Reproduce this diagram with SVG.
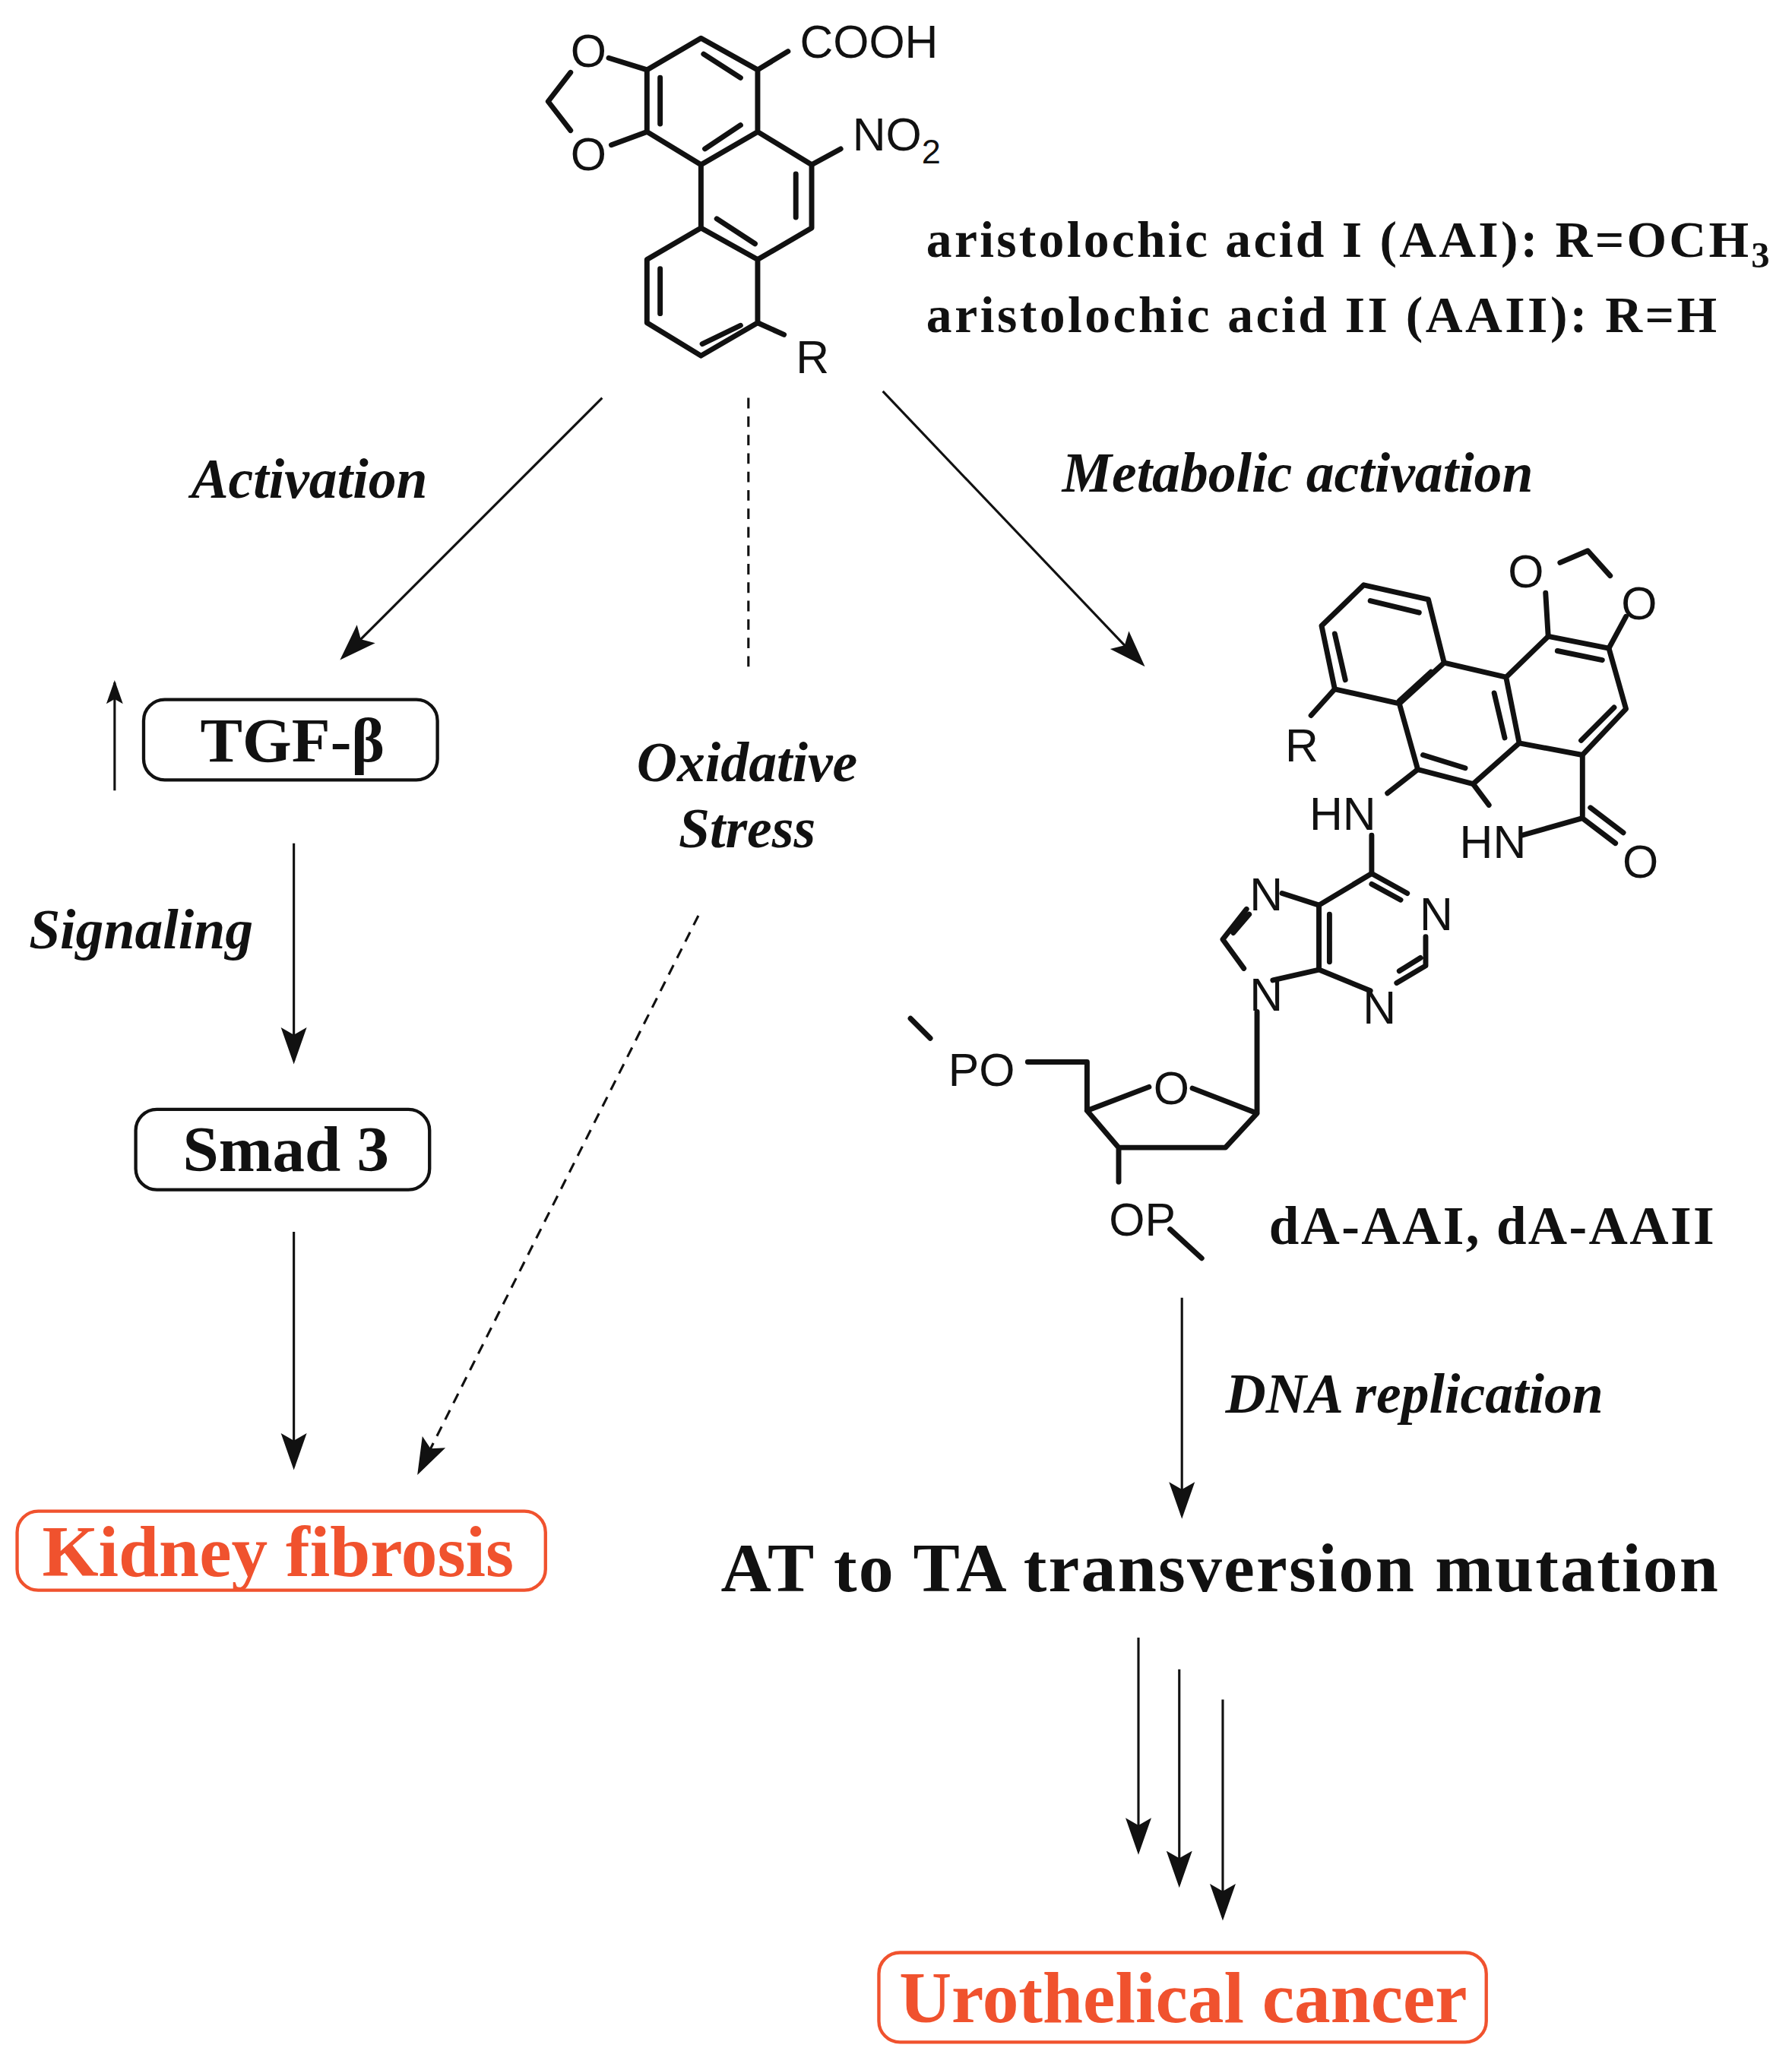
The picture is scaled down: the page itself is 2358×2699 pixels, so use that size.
<svg xmlns="http://www.w3.org/2000/svg" width="2358" height="2699" viewBox="0 0 2358 2699">
<defs>
<style>
.b{stroke:#111;stroke-width:4;fill:none;stroke-linecap:round;stroke-linejoin:round}
.a{stroke:#111;stroke-width:1.8;fill:none}
.at{font-family:"Liberation Sans",Arial,sans-serif;font-size:35px;fill:#111}
.tb{font-family:"Liberation Serif","Times New Roman",serif;font-weight:bold;fill:#111}
.ti{font-family:"Liberation Serif","Times New Roman",serif;font-weight:bold;font-style:italic;fill:#111;font-size:42.5px}
.red{fill:#f0522e}
.box{fill:#fff;stroke:#111;stroke-width:2.5}
.rbox{fill:#fff;stroke:#f0522e;stroke-width:2.5}
</style>
<marker id="ah" viewBox="0 0 20 20" refX="18" refY="10" markerWidth="28" markerHeight="28" markerUnits="userSpaceOnUse" orient="auto"><path d="M0,3 L20,10 L0,17 L4,10 Z" fill="#111"/></marker>
<marker id="ahs" viewBox="0 0 20 20" refX="18" refY="10" markerWidth="18" markerHeight="18" markerUnits="userSpaceOnUse" orient="auto"><path d="M0,3 L20,10 L0,17 L4,10 Z" fill="#111"/></marker>
</defs>
<rect width="2358" height="2699" fill="#fff"/>
<g transform="scale(1.7338)">
<g id="aa">
<path class="b" d="M532,29 L575,53 L575,100 L532,125 L491,100 L491,53 Z M575,100 L616,125 L616,173 L575,197 L532,173 L532,125 M532,173 L575,197 L575,245 L532,270 L491,245 L491,197 Z"/>
<path class="b" d="M501,59 L501,94 M534,41 L562,59 M535,113 L562,95 M604,132 L604,165 M544,166 L573,185 M501,204 L501,238 M533,261 L562,247"/>
<path class="b" d="M575,53 L598,39 M462,44 L491,53 M464,110 L491,100 M433,55 L416,77 L433,99 M616,125 L638,113 M575,245 L595,254"/>
<text class="at" x="607" y="44">COOH</text>
<text class="at" x="647" y="114">NO<tspan font-size="26" dy="10">2</tspan></text>
<text class="at" x="433" y="51">O</text>
<text class="at" x="433" y="129">O</text>
<text class="at" x="604" y="283">R</text>
<text class="tb" x="703" y="195" font-size="39" textLength="640">aristolochic acid I (AAI): R=OCH<tspan font-size="28" dy="8">3</tspan></text>
<text class="tb" x="703" y="252" font-size="39" textLength="600">aristolochic acid II (AAII): R=H</text>
</g>
<g id="adduct">
<path class="b" d="M1035,444 L1084,455 L1096,503 L1062,534 L1013,523 L1003,475 Z M1096,503 L1143,514 L1153,564 L1118,595 L1076,584 L1062,534 M1143,514 L1175,483 L1221,492 L1234,538 L1201,573 L1153,564"/>
<path class="b" d="M1040,456 L1077,465 M1013,481 L1021,516 M1086,510 L1062,532 M1134,526 L1142,560 M1080,573 L1112,583 M1182,494 L1216,501 M1200,562 L1225,537"/>
<path class="b" d="M1013,523 L995,543 M1173,450 L1175,483 M1184,427 L1205,418 L1222,437 M1234,468 L1221,492 M1201,573 L1201,621 L1155,634 M1118,595 L1130,611 M1201,621 L1226,640 M1207,613 L1232,632 M1076,584 L1053,602 M1041,634 L1041,663"/>
<path class="b" d="M1041,663 L1068,678 M1041,671 L1063,683 M1082,711 L1082,733 L1060,746 M1078,727 L1062,737 M1040,752 L1001,736 L1001,687 L1041,663 M1009,730 L1009,694 M1001,687 L973,678 M946,690 L928,713 L944,735 M936,708 L948,694 M966,744 L1001,736 M954,768 L954,845 L930,871 L849,871 L825,843 L872,825 M905,826 L954,845 M825,843 L825,806 L780,806 M849,871 L849,897 M888,933 L912,955 M691,773 L706,788"/>
<text class="at" x="1158" y="446" text-anchor="middle">O</text>
<text class="at" x="1244" y="470" text-anchor="middle">O</text>
<text class="at" x="988" y="578" text-anchor="middle">R</text>
<text class="at" x="1019" y="630" text-anchor="middle">HN</text>
<text class="at" x="1133" y="651" text-anchor="middle">HN</text>
<text class="at" x="1245" y="666" text-anchor="middle">O</text>
<text class="at" x="961" y="691" text-anchor="middle">N</text>
<text class="at" x="1090" y="706" text-anchor="middle">N</text>
<text class="at" x="1047" y="777" text-anchor="middle">N</text>
<text class="at" x="961" y="767" text-anchor="middle">N</text>
<text class="at" x="889" y="838" text-anchor="middle">O</text>
<text class="at" x="745" y="824" text-anchor="middle">PO</text>
<text class="at" x="867" y="938" text-anchor="middle">OP</text>
<text class="tb" x="963" y="944" font-size="41" textLength="338">dA-AAI, dA-AAII</text>
</g>
<g id="tgf"><rect class="box" x="109" y="531" width="223" height="61" rx="16"/><text class="tb" x="222" y="578" font-size="48" text-anchor="middle">TGF-β</text></g>
<g id="smad"><rect class="box" x="103" y="842" width="223" height="61" rx="16"/><text class="tb" x="217" y="889" font-size="49" text-anchor="middle">Smad 3</text></g>
<g id="kidney"><rect class="rbox" x="13" y="1147" width="401" height="60" rx="16"/><text class="tb red" x="211" y="1196" font-size="55" text-anchor="middle">Kidney fibrosis</text></g>
<g id="mutation"><text class="tb" x="547" y="1208" font-size="53" textLength="757">AT to TA transversion mutation</text></g>
<g id="cancer"><rect class="rbox" x="667" y="1482" width="461" height="68" rx="16"/><text class="tb red" x="898" y="1535" font-size="55" text-anchor="middle">Urothelical cancer</text></g>
<g id="labels">
<text class="ti" x="145" y="378">Activation</text>
<text class="ti" x="806" y="373">Metabolic activation</text>
<text class="ti" x="22" y="720">Signaling</text>
<text class="ti" x="567" y="593" text-anchor="middle">Oxidative</text>
<text class="ti" x="567" y="643" text-anchor="middle">Stress</text>
<text class="ti" x="930" y="1072">DNA replication</text>
</g>
<g id="connectors">
<line class="a" x1="457" y1="302" x2="260" y2="499" marker-end="url(#ah)"/>
<line class="a" x1="568" y1="302" x2="568" y2="512" stroke-dasharray="8,6"/>
<line class="a" x1="670" y1="297" x2="867" y2="504" marker-end="url(#ah)"/>
<line class="a" x1="87" y1="600" x2="87" y2="518" marker-end="url(#ahs)"/>
<line class="a" x1="223" y1="640" x2="223" y2="805" marker-end="url(#ah)"/>
<line class="a" x1="223" y1="935" x2="223" y2="1113" marker-end="url(#ah)"/>
<line class="a" x1="530" y1="695" x2="318" y2="1117" stroke-dasharray="8,6" marker-end="url(#ah)"/>
<line class="a" x1="897" y1="985" x2="897" y2="1150" marker-end="url(#ah)"/>
<line class="a" x1="864" y1="1243" x2="864" y2="1405" marker-end="url(#ah)"/>
<line class="a" x1="895" y1="1267" x2="895" y2="1430" marker-end="url(#ah)"/>
<line class="a" x1="928" y1="1290" x2="928" y2="1455" marker-end="url(#ah)"/>
</g>
</g>
</svg>
